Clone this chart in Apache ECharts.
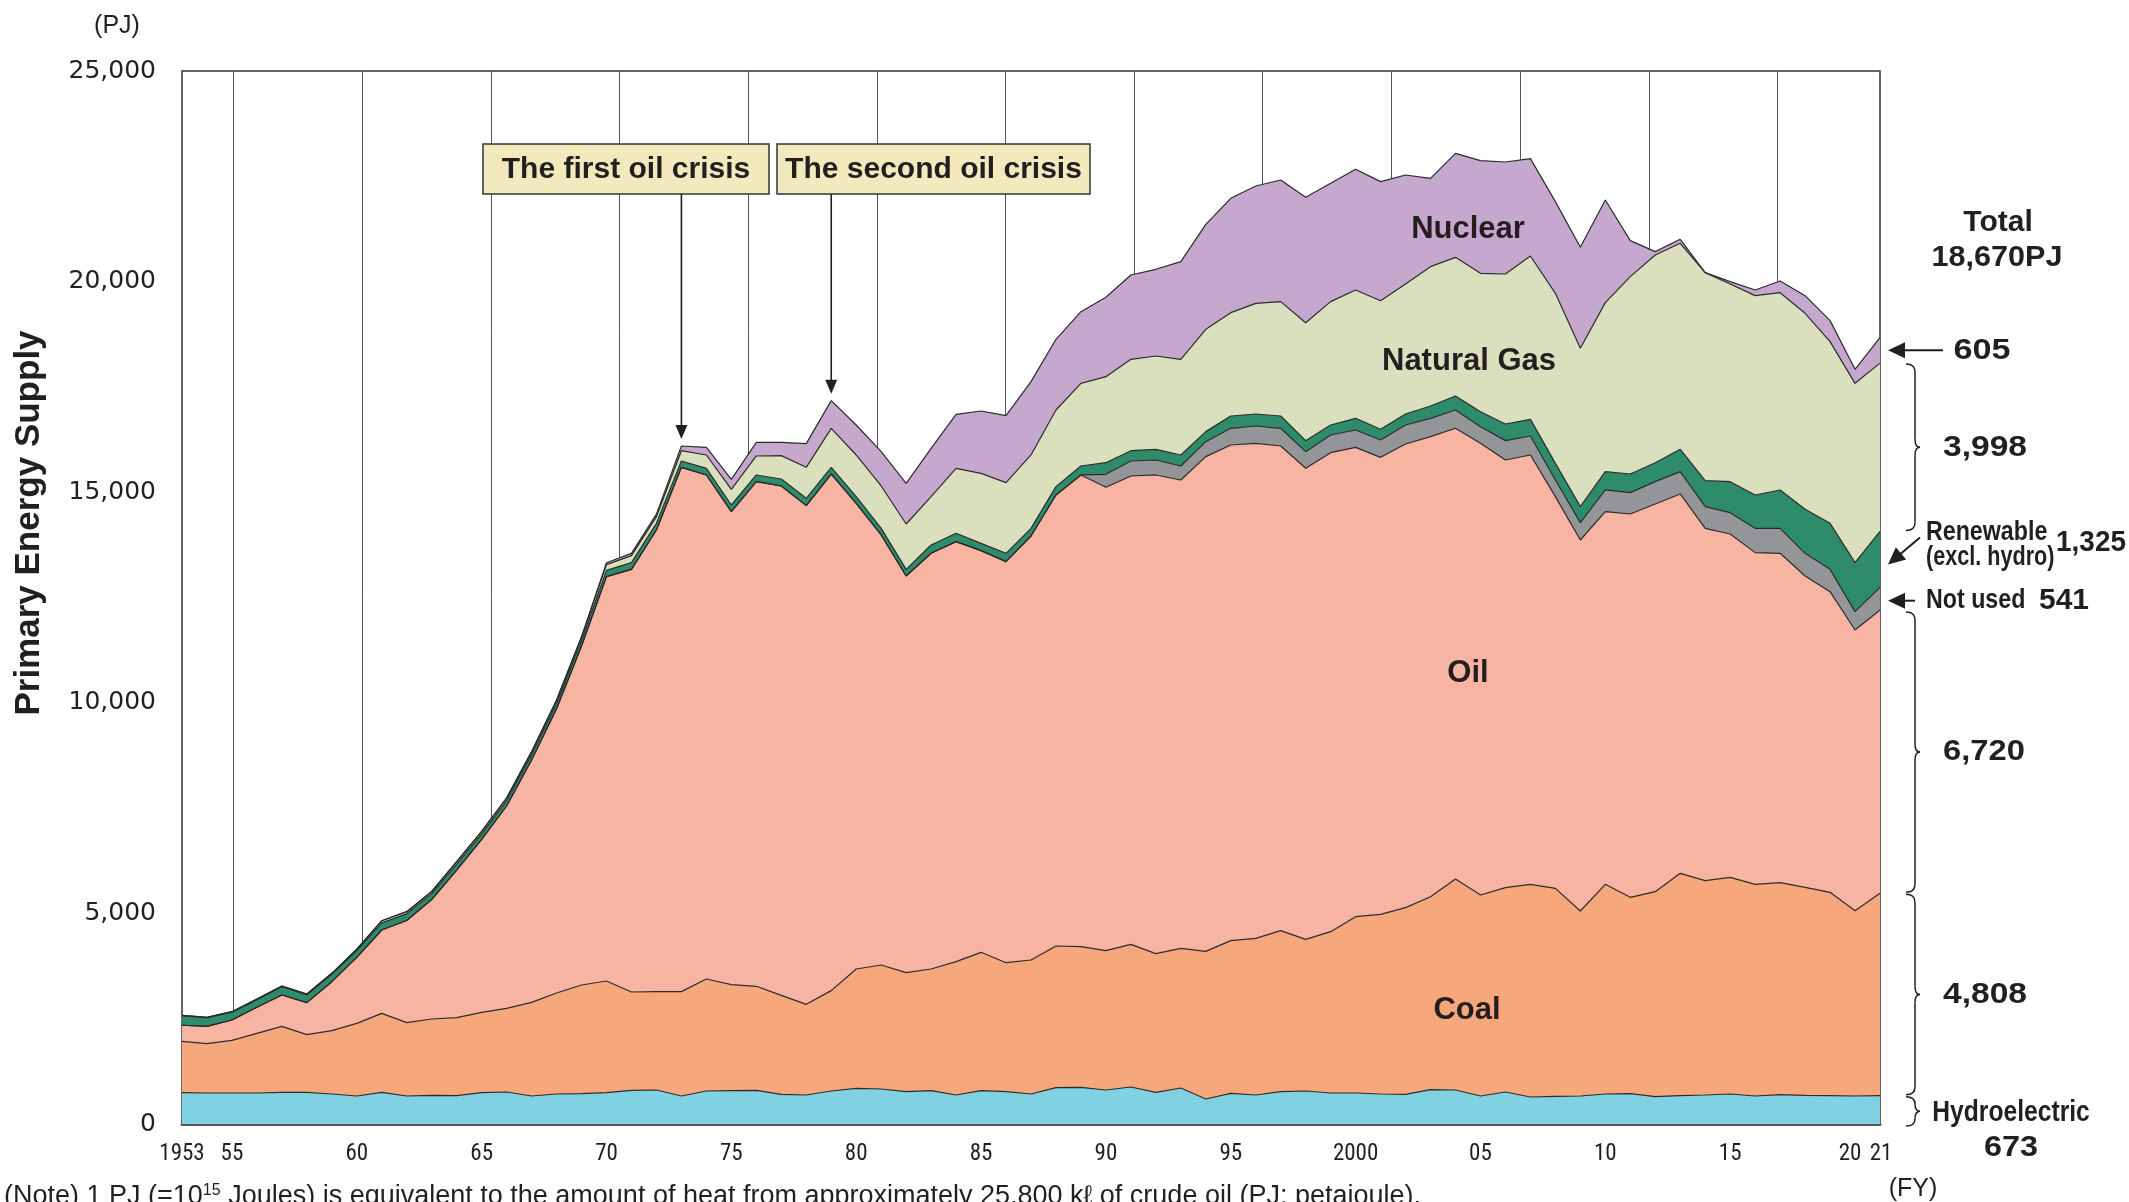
<!DOCTYPE html>
<html>
<head>
<meta charset="utf-8">
<script src="https://cdn.jsdelivr.net/npm/echarts@6/dist/echarts.min.js"></script>
<style>
html,body{margin:0;padding:0;background:#fff;}
#c{width:2129px;height:1202px;}
</style>
</head>
<body>
<div id="c"></div>
<script>
// ---------------- DATA ----------------
const years = ['1953','1954','1955','1956','1957','1958','1959','1960','1961','1962',
'1963','1964','1965','1966','1967','1968','1969','1970','1971','1972',
'1973','1974','1975','1976','1977','1978','1979','1980','1981','1982',
'1983','1984','1985','1986','1987','1988','1989','1990','1991','1992',
'1993','1994','1995','1996','1997','1998','1999','2000','2001','2002',
'2003','2004','2005','2006','2007','2008','2009','2010','2011','2012',
'2013','2014','2015','2016','2017','2018','2019','2020','2021'];

const xTickYears  = ['1953','1955','1960','1965','1970','1975','1980','1985','1990','1995','2000','2005','2010','2015','2020','2021'];
const xTickLabels = ['1953','55','60','65','70','75','80','85','90','95','2000','05','10','15','20','21'];

const hydro = [744,736,736,736,752,752,712,665,752,665,
681,673,744,760,665,712,720,744,799,807,
665,783,791,799,704,689,783,847,831,768,
791,689,791,768,712,863,871,807,878,752,
855,594,728,689,768,783,736,736,712,704,
815,807,665,760,641,657,665,712,720,649,
673,689,712,665,696,681,673,665,673];

const coal = [1219,1171,1250,1417,1567,1369,1504,1725,1875,1741,
1812,1852,1907,1986,2224,2398,2580,2651,2335,2335,
2477,2660,2517,2470,2351,2152,2383,2833,2944,2825,
2889,3165,3285,3062,3182,3363,3339,3308,3388,3292,
3316,3505,3625,3719,3822,3601,3830,4187,4266,4432,
4582,5010,4772,4851,5049,4938,4392,4978,4662,4867,
5278,5088,5144,5025,5034,4938,4827,4400,4808];

const oil = [382,412,483,617,744,760,1163,1567,1979,2424,
2837,3505,4109,4804,5751,6750,8050,9600,10035,10961,
12449,11966,11230,11981,12092,11840,12266,11056,10209,9418,
9869,9972,9536,9521,10066,10708,11199,11001,11119,11365,
11119,11745,11768,11752,11507,11183,11373,11142,10850,11009,
10922,10700,10723,10154,10194,9299,8808,8848,9101,9204,
9007,8365,8152,7875,7819,7392,7139,6664,6720];

const notUsed = [0,0,0,0,0,0,0,0,0,0,
0,0,0,0,0,0,0,0,0,0,
0,0,0,0,0,0,0,0,0,0,
0,0,0,0,0,0,0,308,356,356,
332,356,396,412,420,396,419,412,412,451,
435,435,396,459,451,396,412,515,506,530,
530,515,506,577,593,538,530,435,541];

const renewable = [225,203,186,183,195,185,173,160,170,160,
140,140,130,130,130,130,135,150,158,158,
150,158,158,159,167,174,159,158,158,158,
198,198,174,198,182,198,213,277,245,253,
262,238,292,285,292,261,238,277,253,261,
293,332,356,395,395,395,380,435,443,451,
530,617,736,792,910,1045,1092,1163,1325];

const gas = [10,10,12,15,18,20,25,33,50,51,
50,58,55,60,65,70,75,135,166,158,
245,316,372,451,554,736,925,990,1006,1076,
1147,1543,1662,1677,1742,1820,1963,2042,2169,2216,
2271,2429,2454,2627,2715,2801,2928,3047,3054,3086,
3308,3292,3285,3562,3878,4037,3759,4012,4685,4931,
4891,4938,4693,4732,4685,4653,4313,4258,3998];

const nuclear = [0,0,0,0,0,0,0,0,0,0,
0,0,0,2,5,8,10,45,56,60,
111,182,238,324,316,562,657,712,815,966,
1148,1282,1480,1591,1741,1678,1701,1884,2002,2058,
2319,2493,2714,2786,2889,2976,2809,2865,2826,2588,
2097,2470,2674,2659,2311,2176,2398,2437,855,79,
95,0,56,135,277,419,499,332,605];

// decorative vertical rules of the original (in year units on the x scale)
const guideLineYears = [1955.06,1960.22,1965.37,1970.52,1975.68,1980.83,1985.98,1991.13,1996.28,2001.44,2006.59,2011.74,2016.89];

// ---------------- STYLE ----------------
const NARROW = "'Roboto Condensed','Liberation Sans Narrow','DejaVu Sans Condensed','Liberation Sans',Arial,sans-serif";
const SANS = "'Liberation Sans',Arial,sans-serif";
const INK = '#231f20';

const layers = [
  {name:'Hydroelectric', data:hydro, color:'#80d2e3'},
  {name:'Coal', data:coal, color:'#f6a77c'},
  {name:'Oil', data:oil, color:'#f8b4a3'},
  {name:'Not used', data:notUsed, color:'#939599'},
  {name:'Renewable (excl. hydro)', data:renewable, color:'#2e8c6b'},
  {name:'Natural Gas', data:gas, color:'#dae0bd'},
  {name:'Nuclear', data:nuclear, color:'#c6a8ce'}
];

const labelMap = {};
xTickYears.forEach((y,i)=>{ labelMap[y] = xTickLabels[i]; });

const chart = echarts.init(document.getElementById('c'), null, {renderer:'canvas'});

const series = layers.map(l => ({
  type:'line', name:l.name, stack:'total', data:l.data,
  symbol:'none', smooth:false, silent:true, z:2,
  lineStyle:{color:'#2b2b2b', width:1.2},
  areaStyle:{color:l.color, opacity:1}
}));

series.push({
  type:'line', xAxisIndex:1, yAxisIndex:0, data:[[1953,0]], symbol:'none', silent:true, z:1,
  lineStyle:{opacity:0},
  markLine:{
    silent:true, z:1, symbol:['none','none'], label:{show:false},
    lineStyle:{color:'#555', width:1, type:'solid'},
    data: guideLineYears.map(v => ({xAxis:v}))
  }
});

const tickRich = {
  n:{fontSize:23, fontFamily:NARROW, color:INK},
  l:{fontSize:23, fontFamily:NARROW, color:INK, padding:[0,10,0,0]},
  r:{fontSize:23, fontFamily:NARROW, color:INK, padding:[0,0,0,2]}
};

const option = {
  animation:false,
  backgroundColor:'#fff',
  grid:{left:182, right:249, top:71, bottom:78, show:true, borderColor:'#333', borderWidth:1.5, backgroundColor:'transparent'},
  xAxis:[{
    type:'category', data:years, boundaryGap:false,
    axisLine:{show:true, lineStyle:{color:'#555', width:3}},
    axisTick:{show:false},
    splitLine:{show:false},
    axisLabel:{interval:0, margin:19, fontSize:23, fontFamily:NARROW, color:INK, rich:tickRich,
      formatter: v => {
        const t = labelMap[v];
        if (!t) return '';
        if (v === '2020') return '{l|' + t + '}';
        if (v === '2021') return '{r|' + t + '}';
        return '{n|' + t + '}';
      }}
  },{
    type:'value', min:1953, max:2021, show:false
  }],
  yAxis:{
    type:'value', min:0, max:25000, interval:5000,
    axisLine:{show:false}, axisTick:{show:false}, splitLine:{show:false},
    axisLabel:{margin:26, fontSize:25, fontFamily:"'DejaVu Sans',sans-serif", color:INK,
      formatter: v => v.toLocaleString('en-US')}
  },
  series: series
};
chart.setOption(option);

// ---------------- ANNOTATIONS ----------------
const last = years.length - 1;
const py = v => chart.convertToPixel({yAxisIndex:0}, v);
const px = c => chart.convertToPixel({xAxisIndex:0}, c);
const totalAt = i => layers.reduce((s,l)=>s+l.data[i],0);
const cumTops = []; { let a=0; layers.forEach(l=>{ a+=l.data[last]; cumTops.push(a); }); }
const cumBottoms = [0].concat(cumTops.slice(0,-1));
const midY = k => py((cumTops[k]+cumBottoms[k])/2);

function txt(x,y,text,o){
  o = o||{};
  return {type:'text', x:x, y:y, z:100, scaleX:o.sx||1, rotation:o.rot||0, silent:true,
    style:{text:text, fontSize:o.fs||30, fontWeight:o.fw||'bold', fontFamily:o.ff||SANS, fill:o.fill||INK,
      align:o.al||'center', verticalAlign:'middle', textAlign:o.al||'center', textVerticalAlign:'middle', rich:o.rich}};
}
function arrow(x1,y1,x2,y2,hl,hw,lw){
  const dx=x2-x1, dy=y2-y1, L=Math.hypot(dx,dy), ux=dx/L, uy=dy/L;
  const bx=x2-ux*hl, by=y2-uy*hl;
  return [
    {type:'line', z:100, silent:true, shape:{x1:x1,y1:y1,x2:bx+ux*2,y2:by+uy*2}, style:{stroke:INK, lineWidth:lw||2}},
    {type:'polygon', z:100, silent:true, shape:{points:[[x2,y2],[bx-uy*hw,by+ux*hw],[bx+uy*hw,by-ux*hw]]}, style:{fill:INK}}
  ];
}
function brace(x0,y1,y2){
  const x1=x0+9, x2=x0+14, ym=(y1+y2)/2, r=Math.min(8,(y2-y1)/4);
  const st={stroke:INK, lineWidth:1.5, fill:'none'};
  const b=(a,b2,c,d,e,f)=>({type:'bezierCurve', z:100, silent:true, shape:{x1:a,y1:b2,cpx1:c,cpy1:d,x2:e,y2:f}, style:st});
  const ln=(a,b2,c,d)=>({type:'line', z:100, silent:true, shape:{x1:a,y1:b2,x2:c,y2:d}, style:st});
  return [
    b(x0,y1,x1,y1,x1,y1+r), ln(x1,y1+r,x1,ym-r), b(x1,ym-r,x1,ym,x2,ym),
    b(x2,ym,x1,ym,x1,ym+r), ln(x1,ym+r,x1,y2-r), b(x1,y2-r,x1,y2,x0,y2)
  ];
}

const g = [];
// axis captions
g.push(txt(117,26,'(PJ)',{fs:25,fw:'normal'}));
g.push(txt(1913,1189,'(FY)',{fs:25,fw:'normal'}));
g.push(txt(29,523,'Primary Energy Supply',{fs:35,rot:Math.PI/2}));
g.push(txt(4,1197,'{a|(Note) 1 PJ (=10}{s|15}{a| Joules) is equivalent to the amount of heat from approximately 25,800 kℓ of crude oil (PJ: petajoule).}',
  {al:'left', fw:'normal', rich:{a:{fontSize:27,fontFamily:SANS,fill:INK,color:INK},s:{fontSize:16,fontFamily:SANS,fill:INK,color:INK,verticalAlign:'top',padding:[0,0,12,0]}}}));

// area labels
g.push(txt(1468,229,'Nuclear',{fs:31}));
g.push(txt(1469,361,'Natural Gas',{fs:31}));
g.push(txt(1468,673,'Oil',{fs:31}));
g.push(txt(1467,1010,'Coal',{fs:31}));

// oil crisis boxes
const boxes = [
  {x:483, w:286, label:'The first oil crisis', year:'1973'},
  {x:777, w:313, label:'The second oil crisis', year:'1979'}
];
boxes.forEach(b=>{
  g.push({type:'rect', z:100, silent:true, shape:{x:b.x, y:144, width:b.w, height:50}, style:{fill:'#f2eabd', stroke:'#333', lineWidth:1.5}});
  g.push(txt(b.x+b.w/2,170,b.label,{fs:30}));
  const i = years.indexOf(b.year);
  const ax = px(b.year);
  g.push(...arrow(ax,194,ax,py(totalAt(i))-7,14,6,1.6));
});

// right side annotations
const xR = chart.getWidth() - 249; // right edge of plot
g.push(txt(1998,223,'Total'));
g.push(txt(1997,258,'18,670PJ',{sx:1.02}));
// nuclear arrow
{ const y = midY(6); g.push(...arrow(xR+63,y,xR+8,y,17,8,2)); g.push(txt(1982,y,'605',{sx:1.14})); }
// gas brace
g.push(...brace(xR+26, py(cumTops[5])+1, py(cumBottoms[5])-1));
g.push(txt(1985,midY(5),'3,998',{sx:1.12}));
// renewable
{ const y = midY(4); g.push(...arrow(xR+40,y-22,xR+8,y+5,17,8,2));
  g.push(txt(1926,y-27,'Renewable',{fs:27,al:'left',sx:0.86}));
  g.push(txt(1926,y-2,'(excl. hydro)',{fs:27,al:'left',sx:0.8}));
  g.push(txt(2091,y-17,'1,325',{sx:0.93})); }
// not used
{ const y = midY(3)+2; g.push(...arrow(xR+35,y,xR+8,y,17,8,2));
  g.push(txt(1926,y,'Not used',{fs:27,al:'left',sx:0.86}));
  g.push(txt(2064,y,'541',{sx:1.0})); }
// oil brace
g.push(...brace(xR+26, py(cumTops[2])+2, py(cumBottoms[2])-1));
g.push(txt(1984,midY(2),'6,720',{sx:1.09}));
// coal brace
g.push(...brace(xR+26, py(cumTops[1])+1, py(cumBottoms[1])-1));
g.push(txt(1985,midY(1),'4,808',{sx:1.12}));
// hydro brace
g.push(...brace(xR+26, py(cumTops[0])+1, py(0)+2));
g.push(txt(2011,1113,'Hydroelectric',{fs:29,sx:0.85}));
g.push(txt(2011,1148,'673',{sx:1.08}));

chart.setOption({graphic:{elements:g}});
</script>
</body>
</html>
